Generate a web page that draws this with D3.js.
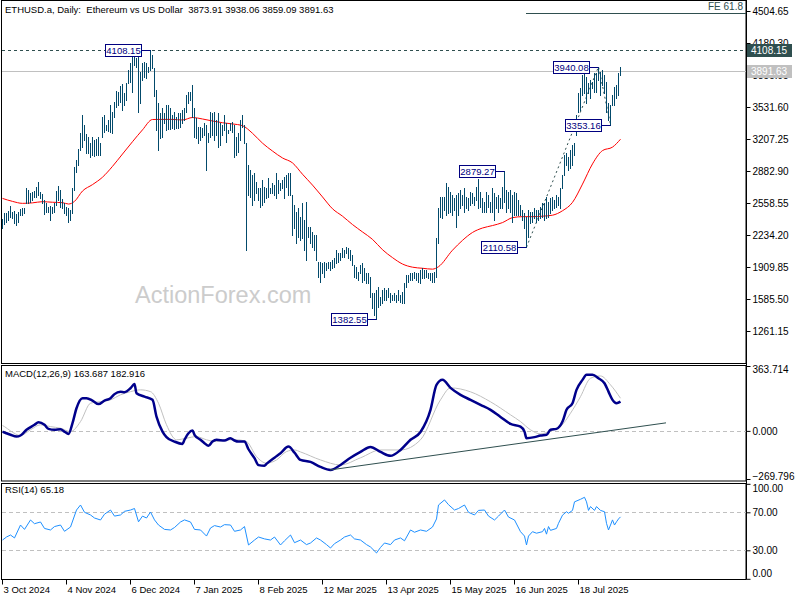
<!DOCTYPE html>
<html><head><meta charset="utf-8">
<script src="https://cdn.jsdelivr.net/npm/d3@7"></script>
<style>
body{margin:0;background:#fff}
svg{display:block}
text{font-family:"Liberation Sans",Arial,sans-serif;font-size:9.5px}
</style></head>
<body><svg id="c" width="800" height="600"></svg>
<script>
// ---------- DATA ----------
const startDate = "2024-10-03";
const highs = [
2400,2453,2453,2481,2528,2470,2477,2443,2464,2497,
2504,2504,2707,2690,2656,2673,2683,2724,2775,2673,
2649,2589,2555,2521,2528,2521,2555,2680,2731,2690,
2595,2555,2521,2504,2487,2707,2927,2994,3109,3265,
3451,3349,3254,3231,3163,3231,3197,3204,3231,3170,
3427,3451,3349,3400,3552,3484,3586,3697,3687,3745,
3765,3670,3772,3907,3974,4069,4035,4025,4035,3890,
3974,3991,3974,3941,4108.15,4060,3924,3700,3572,3467,
3518,3467,3552,3552,3518,3450,3484,3433,3467,3467,
3501,3518,3653,3687,3687,3754,3518,3416,3332,3332,
3315,3366,3349,3264,3484,3467,3484,3399,3467,3366,
3349,3450,3366,3298,3366,3382,3349,3230,3264,3399,
3450,3349,3163,2943,2892,2842,2859,2774,2706,2706,
2791,2723,2706,2808,2706,2757,2740,2859,2791,2757,
2791,2825,2842,2859,2859,2640,2538,2471,2504,2420,
2555,2386,2572,2319,2319,2268,2234,2234,1964,1964,
1947,1964,1947,1964,1964,1981,1997,2082,2048,2048,
2099,2082,2116,2099,2082,2031,1930,1913,1862,1930,
1947,1896,1845,1845,1812,1643,1643,1677,1710,1609,
1677,1693,1677,1693,1643,1626,1643,1626,1677,1626,
1660,1744,1828,1828,1845,1845,1862,1845,1845,1879,
1896,1879,1879,1845,1845,1845,1862,2200,2504,2623,
2623,2623,2758,2724,2673,2639,2606,2639,2656,2690,
2639,2707,2622,2606,2673,2656,2622,2724,2802,2673,
2606,2572,2673,2639,2572,2707,2656,2622,2639,2606,
2724,2879.27,2690,2673,2690,2639,2673,2656,2589,2538,
2487,2454,2420,2487,2470,2470,2504,2487,2487,2521,
2555,2555,2622,2572,2606,2622,2589,2639,2622,2707,
2842,3045,3062,3028,3096,3146,3163,3450,3670,3721,
3856,3873,3839,3772,3805,3789,3873,3873,3940.08,3890,
3907,3856,3789,3569,3552,3653,3738,3755,3873,3938.06];
const lows = [
2310,2342,2369,2386,2420,2403,2359,2332,2369,2437,
2437,2453,2555,2555,2572,2589,2622,2622,2639,2606,
2555,2447,2470,2470,2382,2453,2470,2538,2589,2521,
2504,2453,2437,2362,2386,2453,2690,2876,2944,3096,
3129,3197,3062,3069,3021,3045,3035,3045,3045,3045,
3231,3282,3298,3292,3282,3265,3434,3535,3552,3586,
3501,3552,3603,3772,3789,3680,3958,3941,3484,3569,
3805,3832,3822,3890,3907,3924,3640,3298,3095,3214,
3230,3366,3298,3305,3305,3315,3305,3315,3315,3332,
3366,3399,3484,3568,3602,3433,3230,3214,3163,3197,
3224,3247,2892,3180,3230,3247,3197,3247,3129,3146,
3247,3298,3180,3264,3298,3281,3028,3045,3078,3197,
3332,3163,2081,2639,2622,2537,2588,2656,2588,2521,
2537,2571,2605,2622,2656,2656,2639,2605,2656,2690,
2706,2605,2723,2639,2639,2234,2302,2150,2217,2183,
2200,2082,1981,2217,2150,2116,2082,1981,1812,1761,
1845,1812,1879,1896,1879,1896,1913,1947,1964,1981,
2014,2014,2048,1997,1981,1930,1812,1795,1778,1845,
1761,1778,1744,1744,1609,1491,1420,1382.55,1508,1525,
1541,1575,1575,1609,1558,1575,1575,1558,1575,1558,
1541,1541,1710,1761,1778,1778,1795,1778,1761,1744,
1795,1795,1812,1795,1778,1761,1761,1812,2150,2420,
2403,2487,2437,2454,2470,2437,2487,2318,2437,2504,
2538,2470,2504,2487,2538,2555,2538,2589,2504,2521,
2470,2470,2470,2521,2470,2470,2386,2504,2470,2504,
2504,2572,2470,2504,2470,2369,2437,2437,2437,2437,
2386,2301,2110.58,2217,2352,2369,2403,2369,2386,2403,
2420,2386,2403,2420,2454,2487,2504,2521,2538,2504,
2707,2842,2943,2893,2910,2943,3045,3248,3484,3501,
3653,3670,3569,3670,3620,3721,3687,3687,3805,3653,
3755,3670,3484,3400,3353.16,3552,3552,3620,3653,3859.09];
// moving average [bar index, value]
const maPts = [[0,2605],[5,2575],[10,2555],[15,2560],[20,2572],[25,2566],[30,2562],[33,2548],[36,2575],[40,2680],[45,2745],[50,2820],[55,2930],[60,3055],[65,3180],[70,3300],[75,3405],[80,3406],[85,3406],[90,3400],[95,3425],[100,3410],[105,3390],[110,3372],[115,3360],[120,3342],[125,3265],[130,3165],[135,3085],[140,3015],[145,2965],[150,2850],[155,2740],[160,2620],[165,2500],[170,2425],[175,2340],[180,2265],[185,2190],[190,2085],[195,2005],[200,1940],[205,1908],[210,1897],[215,1888],[218,1913],[225,2080],[230,2180],[235,2260],[240,2305],[245,2330],[250,2360],[255,2410],[260,2420],[265,2420],[270,2425],[275,2435],[280,2480],[285,2565],[290,2750],[295,2955],[300,3090],[305,3125],[309,3205]];
// MACD main line [bar index, value]
const macdPts = [[0,-5],[1,-9],[4,-22],[7,-32],[9,-26],[12,6],[16,34],[18,49],[21,34],[23,11],[26,6],[29,9],[31,-4],[33,-17],[35,43],[37,127],[40,183],[42,183],[45,170],[48,150],[51,170],[54,183],[56,206],[59,219],[61,217],[64,239],[66,263],[67,211],[71,192],[75,174],[77,80],[80,-4],[82,-35],[86,-60],[90,-73],[91,-50],[93,-13],[95,2],[96,-22],[99,-50],[101,-69],[103,-84],[105,-60],[107,-50],[111,-54],[114,-41],[116,-54],[118,-60],[121,-60],[123,-103],[126,-153],[128,-192],[131,-195],[132,-185],[136,-150],[139,-125],[143,-88],[146,-122],[149,-163],[154,-174],[159,-202],[164,-219],[169,-191],[174,-151],[179,-118],[184,-90],[189,-118],[194,-140],[199,-107],[204,-50],[209,-6],[214,118],[217,258],[220,286],[224,241],[229,202],[234,174],[239,146],[244,118],[249,78],[254,39],[259,24],[261,-4],[262,-41],[266,-35],[269,-26],[272,-22],[274,6],[277,11],[280,52],[282,118],[285,155],[287,230],[290,286],[292,314],[295,314],[298,295],[301,267],[303,220],[305,174],[307,155],[309,163.687]];
// MACD signal line
const signalPts = [[0,30],[1,24],[4,0],[9,-26],[14,6],[19,34],[24,24],[29,15],[34,-4],[39,52],[44,155],[49,164],[54,174],[59,202],[64,220],[69,230],[74,220],[78,155],[82,34],[87,-50],[92,-41],[97,-32],[102,-50],[107,-60],[112,-50],[117,-50],[122,-60],[127,-144],[132,-181],[137,-163],[142,-116],[146,-107],[149,-118],[159,-163],[169,-191],[179,-151],[189,-107],[199,-107],[209,-50],[219,174],[224,241],[234,219],[244,163],[254,90],[259,52],[264,6],[269,-17],[274,0],[279,24],[284,99],[289,192],[294,295],[299,308],[304,258],[309,182.916]];
// RSI(14)
const rsiPts = [[0,40.8],[2,44],[4,46.1],[6,43],[9,56.6],[11,52],[14,61.9],[16,58],[19,59.8],[21,53],[24,51.4],[26,55],[29,56.6],[31,50],[34,54.5],[37,72.4],[39,77.7],[41,70],[44,67.2],[46,64],[49,61.9],[51,68],[54,72.4],[56,66],[59,67.2],[61,71],[64,72.4],[66,74],[68,60],[70,66],[72,64],[74,70.3],[76,62],[78,56.6],[81,52],[84,51.4],[86,54],[89,59.8],[91,62],[94,59.8],[96,52],[99,51.4],[102,45],[104,53.5],[106,56],[109,54.5],[111,57],[114,56.6],[116,50],[119,51.4],[121,55],[123,35.6],[126,40.8],[128,44],[131,42],[134,40.8],[136,44],[139,35.6],[141,40],[144,46.1],[146,38],[149,40.8],[152,36],[154,37.7],[157,43],[159,40.8],[162,36],[164,32.4],[166,37],[169,40.8],[171,44],[174,46.1],[176,42],[179,40.8],[182,36],[184,33.5],[187,27.2],[189,33],[191,37.7],[194,36],[196,40.8],[199,43],[201,40],[204,51.4],[206,49],[209,51.4],[212,50],[215,54.5],[217,63],[218,77.7],[221,83],[223,78],[226,72.4],[228,74],[231,77.7],[233,70],[236,67.2],[238,72],[241,72.4],[243,66],[246,61.9],[248,66],[251,72.4],[253,65],[256,61.9],[259,49.6],[261,45],[262,35.6],[263,45],[265,49.6],[267,48],[270,49.6],[271,53],[272,47],[273,55],[274,51],[277,53],[278,58.4],[280,67],[282,70.6],[283,69],[285,72],[286,81],[289,83.7],[291,85.8],[292,81],[293,72],[294,76],[296,72],[297,76],[299,72],[301,70.6],[302,58.4],[303,51.4],[304,56.6],[305,62],[306,56.6],[307,60],[308,63],[309,65.18]];
// price labels on the chart [bar index, price]
const markLabels = [[74,4108.15],[187,1382.55],[251,2879.27],[262,2110.58],[298,3940.08],[304,3353.16]];
const priceTicks = [4504.65,4180.30,3855.95,3531.60,3207.25,2882.90,2558.55,2234.20,1909.85,1585.50,1261.15];
const macdTicks = [363.714,0,-269.796];
const rsiTicks = [100,70,30,0];
const dateTicks = ["2024-10-03","2024-11-04","2024-12-06","2025-01-07","2025-02-08","2025-03-12","2025-04-13","2025-05-15","2025-06-16","2025-07-18"];
const ohlcLast = ["3873.91","3938.06","3859.09","3891.63"];
const resistance = 4108.15, bid = 3891.63, fe618 = 4483.8;
const feFrom = 262, fibA = 262, fibB = 298, fibC = 304;
const trendMacd = [[164,-219],[332,45]];

// ---------- CHART ----------
const FONT = '"Liberation Sans",Arial,sans-serif';
const svg = d3.select("#c");
const parse = d3.utcParse("%Y-%m-%d");
const day0 = parse(startDate);
const dOf = i => d3.utcDay.offset(day0, i);
const x = d3.scaleUtc().domain([day0, parse("2025-07-18")]).range([2, 578]);
const yP = d3.scaleLinear().domain([1261.15, 4504.65]).range([331, 11]);
const yM = d3.scaleLinear().domain([-269.796, 363.714]).range([479, 366]);
const yR = d3.scaleLinear().domain([0, 100]).range([578.8, 483.8]);
const AX = 746;
const dark = "#2f4f4f";

const panels = [[0,363],[365,480.5],[483,579]];
panels.forEach(([t,b])=>{
  svg.append("rect").attr("x",1.5).attr("y",t+0.5).attr("width",AX-1.5).attr("height",b-t)
    .attr("fill","none").attr("stroke","#000").attr("stroke-width",1);
});
svg.append("line").attr("x1",AX+0.5).attr("x2",AX+0.5).attr("y1",0).attr("y2",579.5).attr("stroke","#000");

const defs = svg.append("defs");
panels.forEach(([t,b],k)=>{
  defs.append("clipPath").attr("id","cp"+k).append("rect").attr("x",2).attr("y",t+1).attr("width",AX-2).attr("height",b-t-1);
});
const gMain = svg.append("g").attr("clip-path","url(#cp0)");
const gMacd = svg.append("g").attr("clip-path","url(#cp1)");
const gRsi = svg.append("g").attr("clip-path","url(#cp2)");

// watermark
svg.append("text").attr("x",135).attr("y",303).text("ActionForex.com")
  .attr("fill","#cccccc").style("font-size","23.5px");

// horizontal lines
gMain.append("line").attr("x1",2).attr("x2",AX).attr("y1",Math.round(yP(resistance))+0.5).attr("y2",Math.round(yP(resistance))+0.5)
  .attr("stroke",dark).attr("stroke-dasharray","3,3");
gMain.append("line").attr("x1",2).attr("x2",AX).attr("y1",Math.round(yP(bid))+0.5).attr("y2",Math.round(yP(bid))+0.5)
  .attr("stroke","#c0c0c0");
gMain.append("line").attr("x1",x(dOf(feFrom))).attr("x2",AX).attr("y1",Math.round(yP(fe618))+0.5).attr("y2",Math.round(yP(fe618))+0.5)
  .attr("stroke",dark);
svg.append("text").attr("x",AX-3).attr("y",yP(fe618)-3).attr("text-anchor","end").attr("fill",dark)
  .style("font-size","10px").text("FE 61.8");

// fib expansion dotted lines
const fibPts = [[fibA, lows[fibA]],[fibB, highs[fibB]],[fibC, lows[fibC]]];
gMain.append("path").attr("d",d3.line().x(d=>x(dOf(d[0]))+0.5).y(d=>yP(d[1]))(fibPts))
  .attr("fill","none").attr("stroke",dark).attr("stroke-dasharray","2,3");

// moving average
gMain.append("path").attr("d",d3.line().x(d=>x(dOf(d[0]))+0.5).y(d=>yP(d[1])).curve(d3.curveMonotoneX)(maPts))
  .attr("fill","none").attr("stroke","#ff0000").attr("stroke-width",1);

// bars
gMain.selectAll("line.bar").data(highs.map((h,i)=>({i,h,l:lows[i]}))).join("line")
  .attr("class","bar").attr("x1",d=>x(dOf(d.i))+0.5).attr("x2",d=>x(dOf(d.i))+0.5)
  .attr("y1",d=>yP(d.h)).attr("y2",d=>yP(d.l)+1)
  .attr("stroke","#034a6b").attr("stroke-width",1).attr("shape-rendering","crispEdges");

// label boxes
markLabels.forEach(([i,v])=>{
  const bx = x(dOf(i))+0.5, by = Math.round(yP(v))+0.5;
  const w = 36, h = 12, right = Math.round(bx)-10+0.5;
  gMain.append("line").attr("x1",right).attr("x2",bx).attr("y1",by).attr("y2",by).attr("stroke","#000080");
  gMain.append("rect").attr("x",right-w).attr("y",by-h/2).attr("width",w).attr("height",h)
    .attr("fill","#fff").attr("stroke","#000080");
  gMain.append("text").attr("x",right-w/2).attr("y",by+3.5).attr("text-anchor","middle")
    .attr("fill","#000080").text(d3.format(".2f")(v));
});

// MACD
gMacd.append("line").attr("x1",2).attr("x2",AX).attr("y1",Math.round(yM(0))+0.5).attr("y2",Math.round(yM(0))+0.5)
  .attr("stroke","#c0c0c0").attr("stroke-dasharray","4,3");
gMacd.append("path").attr("d",d3.line().x(d=>x(dOf(d[0]))+0.5).y(d=>yM(d[1])).curve(d3.curveMonotoneX)(signalPts))
  .attr("fill","none").attr("stroke","#c0c0c0").attr("stroke-width",1);
gMacd.append("path").attr("d",d3.line().x(d=>x(dOf(d[0]))+0.5).y(d=>yM(d[1])).curve(d3.curveMonotoneX)(macdPts))
  .attr("fill","none").attr("stroke","#00008b").attr("stroke-width",2.5).attr("stroke-linejoin","round");
gMacd.append("line").attr("x1",x(dOf(trendMacd[0][0]))).attr("y1",yM(trendMacd[0][1]))
  .attr("x2",x(dOf(trendMacd[1][0]))).attr("y2",yM(trendMacd[1][1])).attr("stroke",dark).attr("stroke-width",1);

// RSI
[70,30].forEach(v=>gRsi.append("line").attr("x1",2).attr("x2",AX).attr("y1",Math.round(yR(v))+0.5).attr("y2",Math.round(yR(v))+0.5)
  .attr("stroke","#c0c0c0").attr("stroke-dasharray","4,3"));
gRsi.append("path").attr("d",d3.line().x(d=>x(dOf(d[0]))+0.5).y(d=>yR(d[1]))(rsiPts))
  .attr("fill","none").attr("stroke","#1e90ff").attr("stroke-width",1);

// headers
svg.append("text").attr("x",5).attr("y",13).attr("fill","#000").attr("xml:space","preserve")
  .text("ETHUSD.a, Daily:  Ethereum vs US Dollar  " + ohlcLast.join(" "));
svg.append("text").attr("x",5).attr("y",377).text("MACD(12,26,9) 163.687 182.916");
svg.append("text").attr("x",5).attr("y",493).text("RSI(14) 65.18");

// right axes
function rightAxis(scale, ticks, fmt, lo, hi){
  const g = svg.append("g").attr("transform",`translate(${AX+0.5},0)`)
    .call(d3.axisRight(scale).tickValues(ticks).tickFormat(d3.format(fmt)).tickSize(4).tickPadding(2));
  g.select(".domain").remove();
  g.selectAll("line").attr("stroke","#000");
  g.selectAll("text").attr("fill","#000").style("font-family",FONT).style("font-size","10px")
    .attr("dy",null).attr("y",d=>{const ty=scale(d); return Math.min(Math.max(ty,lo),hi)-ty+3.5;});
  return g;
}
rightAxis(yP, priceTicks, ".2f", 0, 999);
rightAxis(yM, macdTicks, ".3f", 369, 476);
rightAxis(yR, rsiTicks, ".2f", 488, 573);

// highlighted price boxes on the axis
[[resistance, dark],[bid, "#c0c0c0"]].forEach(([v,c])=>{
  const yy = Math.round(yP(v));
  svg.append("rect").attr("x",AX+1).attr("y",yy-6).attr("width",45).attr("height",13).attr("fill",c);
  svg.append("text").attr("x",AX+5).attr("y",yy+4).attr("fill","#fff").style("font-size","10px").text(d3.format(".2f")(v));
});

// time axis
const gx = svg.append("g").attr("transform","translate(0,579.5)")
  .call(d3.axisBottom(x).tickValues(dateTicks.map(parse)).tickFormat(d3.utcFormat("%-d %b %Y")).tickSize(5).tickPadding(2));
gx.select(".domain").remove();
gx.selectAll("line").attr("stroke","#000");
gx.selectAll("text").attr("text-anchor","start").attr("x",1)
  .style("font-family",FONT).style("font-size","9.5px").attr("fill","#000");
</script>
</body></html>
